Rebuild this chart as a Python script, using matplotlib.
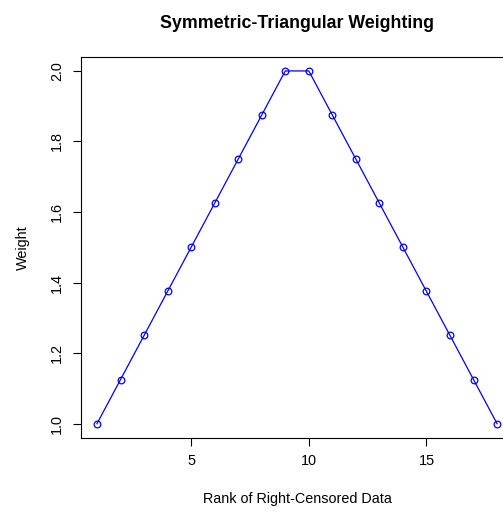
import matplotlib

matplotlib.use("Agg")
import matplotlib.pyplot as plt

plt.rcParams["font.family"] = ["Liberation Sans", "DejaVu Sans"]

rank = list(range(1, 19))
weight = [1.0, 1.125, 1.25, 1.375, 1.5, 1.625, 1.75, 1.875, 2.0,
          2.0, 1.875, 1.75, 1.625, 1.5, 1.375, 1.25, 1.125, 1.0]
xticks = [5, 10, 15]
yticks = [1.0, 1.2, 1.4, 1.6, 1.8, 2.0]

fig = plt.figure(figsize=(5.03, 5.12), dpi=100)
ax = fig.add_axes([0.161, 0.145, 0.859, 0.744])

ax.plot(rank, weight, color="blue", lw=0.9, marker="o", markersize=4.8,
        markerfacecolor="none", markeredgecolor="blue", markeredgewidth=0.9)

ax.set_xlim(0.32, 18.68)
ax.set_ylim(0.96, 2.04)
ax.set_xticks(xticks)
ax.set_xticklabels([str(t) for t in xticks], fontsize=10.4)
ax.set_yticks(yticks)
ax.set_yticklabels([f"{t:.1f}" for t in yticks], fontsize=10.4, rotation=90, va="center")
ax.tick_params(direction="out", length=6, width=0.8, pad=6)
for s in ax.spines.values():
    s.set_linewidth(0.8)

ax.set_xlabel("Rank of Right-Censored Data", fontsize=10.4, labelpad=17)
ax.set_ylabel("Weight", fontsize=10.4, labelpad=15)
fig.text(0.59, 0.955, "Symmetric-Triangular Weighting", ha="center", va="center",
         fontsize=12.8, fontweight="bold")

fig.savefig("out.png", dpi=100)
